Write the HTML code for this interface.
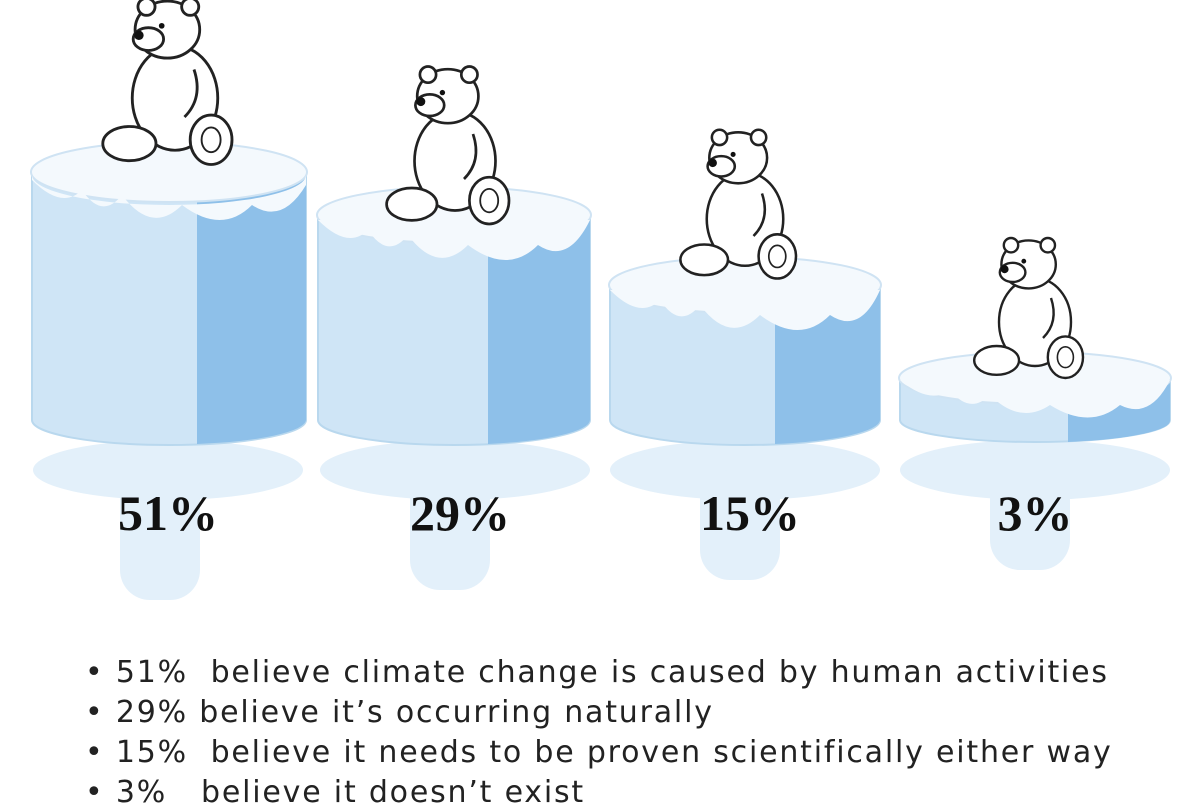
<!DOCTYPE html>
<html><head><meta charset="utf-8"><style>
body{margin:0;background:#fff;width:1200px;height:800px;overflow:hidden;font-family:"Liberation Sans",sans-serif}
.t{position:absolute;left:85px;font-family:"DejaVu Sans",sans-serif;font-size:30px;color:#222;letter-spacing:1.8px;white-space:nowrap}
</style></head><body>
<svg width="1200" height="800" style="position:absolute;left:0;top:0">
<defs>
<g id="bear">
 <ellipse cx="0" cy="40" rx="45" ry="55" fill="#fff" stroke="#222" stroke-width="3"/>
 <ellipse cx="-48" cy="88" rx="28" ry="18" fill="#fff" stroke="#222" stroke-width="3"/>
 <ellipse cx="38" cy="84" rx="22" ry="26" fill="#fff" stroke="#222" stroke-width="3"/>
 <ellipse cx="38" cy="84" rx="10" ry="13" fill="#fff" stroke="#222" stroke-width="2"/>
 <ellipse cx="-8" cy="-32" rx="34" ry="30" fill="#fff" stroke="#222" stroke-width="3"/>
 <circle cx="-30" cy="-56" r="9" fill="#fff" stroke="#222" stroke-width="3"/>
 <circle cx="16" cy="-56" r="9" fill="#fff" stroke="#222" stroke-width="3"/>
 <ellipse cx="-28" cy="-22" rx="16" ry="12" fill="#fff" stroke="#222" stroke-width="3"/>
 <circle cx="-38" cy="-26" r="5" fill="#111"/>
 <circle cx="-14" cy="-36" r="3" fill="#111"/>
 <path d="M20 10 q10 30 -10 50" fill="none" stroke="#222" stroke-width="3"/>
</g>
</defs>
<g fill="#e3f0fa">
<ellipse cx="168" cy="470" rx="135" ry="30"/><rect x="120" y="470" width="80" height="130" rx="30"/>
<ellipse cx="455" cy="470" rx="135" ry="30"/><rect x="410" y="470" width="80" height="120" rx="30"/>
<ellipse cx="745" cy="470" rx="135" ry="30"/><rect x="700" y="470" width="80" height="110" rx="30"/>
<ellipse cx="1035" cy="470" rx="135" ry="30"/><rect x="990" y="470" width="80" height="100" rx="30"/>
</g>
<g>
 <path d="M32 175 L32 420 A137 25 0 0 0 306 420 L306 175 Z" fill="#cfe5f6" stroke="#b9d8ee" stroke-width="2"/>
 <path d="M197 195 L197 444 A137 25 0 0 0 306 420 L306 175 Z" fill="#8ec0e9"/>
 <ellipse cx="169" cy="172" rx="138" ry="30" fill="#f4f9fd" stroke="#cfe3f3" stroke-width="2"/>
 <path d="M32 180 q30 30 50 10 q20 30 40 5 q30 40 60 10 q40 30 70 0 q30 20 54 -20 L306 175 A137 30 0 0 1 32 175Z" fill="#f4f9fd"/>
</g>
<g>
 <path d="M318 220 L318 420 A136 25 0 0 0 590 420 L590 220 Z" fill="#cfe5f6" stroke="#b9d8ee" stroke-width="2"/>
 <path d="M488 240 L488 444 A136 25 0 0 0 590 420 L590 220 Z" fill="#8ec0e9"/>
 <ellipse cx="454" cy="215" rx="137" ry="28" fill="#f4f9fd" stroke="#cfe3f3" stroke-width="2"/>
 <path d="M318 220 q30 30 50 10 q20 30 40 5 q30 40 60 10 q40 30 70 0 q30 20 52 -25Z" fill="#f4f9fd"/>
</g>
<g>
 <path d="M610 290 L610 420 A135 25 0 0 0 880 420 L880 290 Z" fill="#cfe5f6" stroke="#b9d8ee" stroke-width="2"/>
 <path d="M775 310 L775 444 A135 25 0 0 0 880 420 L880 290 Z" fill="#8ec0e9"/>
 <ellipse cx="745" cy="285" rx="136" ry="28" fill="#f4f9fd" stroke="#cfe3f3" stroke-width="2"/>
 <path d="M610 290 q30 30 50 10 q20 30 40 5 q30 40 60 10 q40 30 70 0 q30 20 50 -25Z" fill="#f4f9fd"/>
</g>
<g>
 <path d="M900 380 L900 420 A135 22 0 0 0 1170 420 L1170 380 Z" fill="#cfe5f6" stroke="#b9d8ee" stroke-width="2"/>
 <path d="M1068 400 L1068 442 A135 22 0 0 0 1170 420 L1170 380 Z" fill="#8ec0e9"/>
 <ellipse cx="1035" cy="378" rx="136" ry="26" fill="#f4f9fd" stroke="#cfe3f3" stroke-width="2"/>
 <path d="M900 380 q30 25 50 10 q20 25 40 5 q30 30 60 10 q40 25 70 0 q30 15 50 -25Z" fill="#f4f9fd"/>
</g>
<use href="#bear" transform="translate(175,60) scale(0.95)"/>
<use href="#bear" transform="translate(455,125) scale(0.9)"/>
<use href="#bear" transform="translate(745,185) scale(0.85)"/>
<use href="#bear" transform="translate(1035,290) scale(0.8)"/>
<g font-family="Liberation Serif,serif" font-size="50" font-weight="bold" fill="#111" text-anchor="middle">
<text x="168" y="530">51%</text><text x="460" y="530">29%</text><text x="750" y="530">15%</text><text x="1035" y="530">3%</text>
</g>
</svg>
<div class="t" style="top:655px">• 51%&nbsp; believe climate change is caused by human activities</div>
<div class="t" style="top:695px">• 29% believe it’s occurring naturally</div>
<div class="t" style="top:735px">• 15%&nbsp; believe it needs to be proven scientifically either way</div>
<div class="t" style="top:775px">• 3%&nbsp;&nbsp; believe it doesn’t exist</div>
</body></html>
